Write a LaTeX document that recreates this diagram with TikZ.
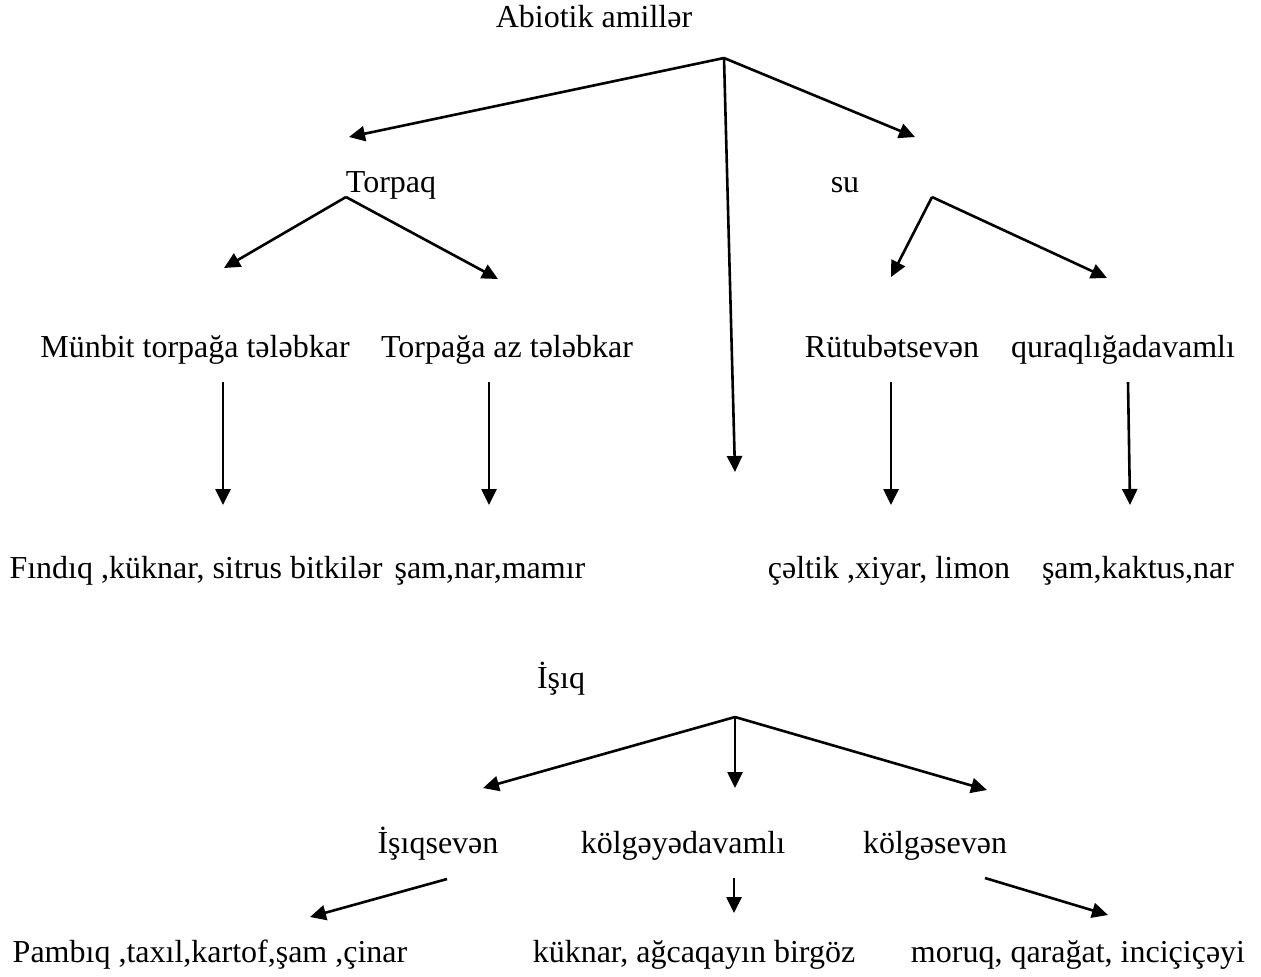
\documentclass[tikz,border=0pt]{standalone}
\usepackage{fontspec}
\setmainfont{Liberation Serif}
\usetikzlibrary{arrows.meta}
\begin{document}
\begin{tikzpicture}[x=0.5pt,y=-0.5pt,
  lbl/.style={inner sep=0pt,anchor=base,font=\fontsize{16}{19}\selectfont},
  arr/.style={line width=1.3pt,-{Triangle[length=8pt,width=7.5pt]}}]
\useasboundingbox (0,0) rectangle (1261,976);
% labels
\node[lbl] (abio) at (594,27) {Abiotik amillər};
\node[lbl] (torp) at (391,192) {Torpaq};
\node[lbl] (su) at (845,192) {su};
\node[lbl] (munb) at (195,357) {Münbit torpağa tələbkar};
\node[lbl] (taz) at (507,357) {Torpağa az tələbkar};
\node[lbl] (rut) at (892,357) {Rütubətsevən};
\node[lbl] (qur) at (1123,357) {quraqlığadavamlı};
\node[lbl] (find) at (196,578) {Fındıq ,küknar, sitrus bitkilər};
\node[lbl] (sam1) at (490,578) {şam,nar,mamır};
\node[lbl] (celt) at (889,578) {çəltik ,xiyar, limon};
\node[lbl] (sam2) at (1138,578) {şam,kaktus,nar};
\node[lbl] (isiq) at (561,688) {İşıq};
\node[lbl] (isev) at (438,853) {İşıqsevən};
\node[lbl] (kdav) at (683,853) {kölgəyədavamlı};
\node[lbl] (ksev) at (935,853) {kölgəsevən};
\node[lbl] (pamb) at (210,962) {Pambıq ,taxıl,kartof,şam ,çinar};
\node[lbl] (kukn) at (694,962) {küknar, ağcaqayın birgöz};
\node[lbl] (moru) at (1078,962) {moruq, qarağat, inciçiçəyi};
% junction and tip coordinates
\coordinate (j1) at (724,58);
\coordinate (t1a) at (349,137);
\coordinate (t1b) at (735,472);
\coordinate (t1c) at (915,137);
\coordinate (j2) at (346,197);
\coordinate (t2a) at (224,268);
\coordinate (t2b) at (498,279);
\coordinate (j3) at (932,197);
\coordinate (t3a) at (891,277);
\coordinate (t3b) at (1107,278);
\coordinate (s4) at (223,382);
\coordinate (t4) at (223,505);
\coordinate (s5) at (489,382);
\coordinate (t5) at (489,505);
\coordinate (s6) at (891,382);
\coordinate (t6) at (891,505);
\coordinate (s7) at (1128,382);
\coordinate (t7) at (1130,505);
\coordinate (j8) at (735,717);
\coordinate (t8a) at (483,788);
\coordinate (t8b) at (735,788);
\coordinate (t8c) at (987,790);
\coordinate (s9) at (447,879);
\coordinate (t9) at (310,917);
\coordinate (s10) at (734,878);
\coordinate (t10) at (734,913);
\coordinate (s11) at (985,878);
\coordinate (t11) at (1108,915);
% connectors
\draw[arr] (j1) -- (t1a);
\draw[arr] (j1) -- (t1b);
\draw[arr] (j1) -- (t1c);
\draw[arr] (j2) -- (t2a);
\draw[arr] (j2) -- (t2b);
\draw[arr] (j3) -- (t3a);
\draw[arr] (j3) -- (t3b);
\draw[arr] (s4) -- (t4);
\draw[arr] (s5) -- (t5);
\draw[arr] (s6) -- (t6);
\draw[arr] (s7) -- (t7);
\draw[arr] (j8) -- (t8a);
\draw[arr] (j8) -- (t8b);
\draw[arr] (j8) -- (t8c);
\draw[arr] (s9) -- (t9);
\draw[arr] (s10) -- (t10);
\draw[arr] (s11) -- (t11);
\end{tikzpicture}
\end{document}
